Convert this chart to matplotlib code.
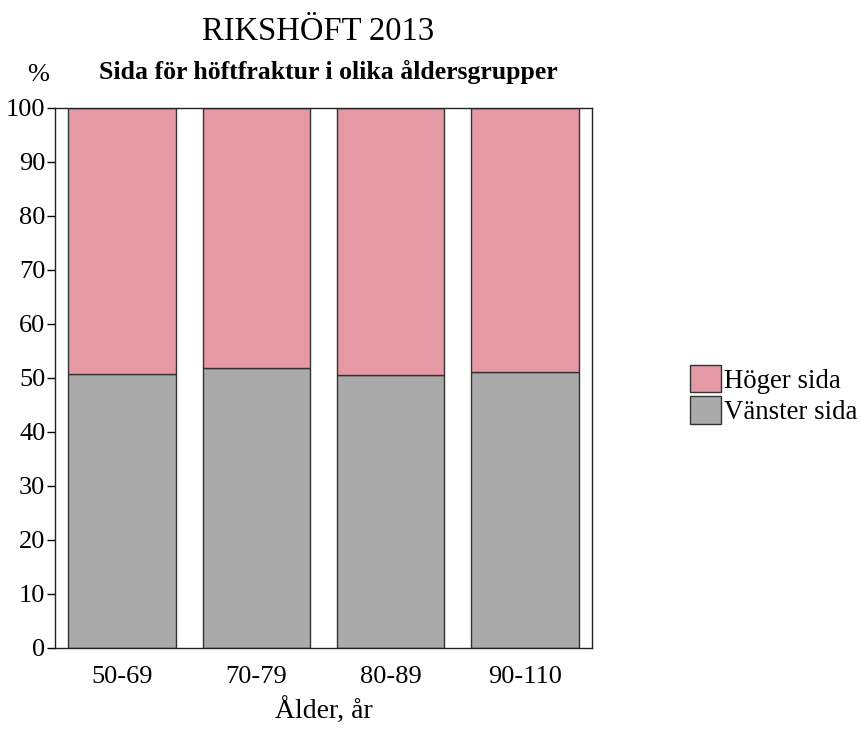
import matplotlib
matplotlib.use('Agg')
import matplotlib.pyplot as plt
import numpy as np

params = {
    'font.family': 'Liberation Serif',
    'font.size': 19,
}
plt.rcParams.update(params)

#%% data
groups = ['50-69', '70-79', '80-89', '90-110']
vanster = [50.7, 51.8, 50.6, 51.2]
hoger = [100 - v for v in vanster]

pink = '#e499a5'
grey = '#aaaaaa'

#%% plot
fig = plt.figure(figsize=(8.61, 7.29), dpi=100)
ax = fig.add_axes([55/861, 81/729, 537/861, 540/729])

x = np.arange(len(groups))
ax.bar(x, vanster, 0.8, color=grey, edgecolor='#333333', linewidth=1, label='Vänster sida')
ax.bar(x, hoger, 0.8, bottom=vanster, color=pink, edgecolor='#333333', linewidth=1, label='Höger sida')

ax.set_xlim(-0.5, 3.5)
ax.set_ylim(0, 100)
ax.set_yticks(range(0, 101, 10))
ax.set_xticks(x)
ax.set_xticklabels(groups)
ax.tick_params(axis='x', length=0, pad=13)
ax.tick_params(axis='y', length=6, width=1, pad=1)
for s in ax.spines.values():
    s.set_linewidth(1)
    s.set_color('#222222')

ax.set_xlabel('Ålder, år', fontsize=20, labelpad=7)
fig.text(38/861, 1 - 75/729, '%', ha='center', va='center', fontsize=19)
fig.text(318/861, 1 - 32/729, 'RIKSHÖFT 2013', ha='center', va='center', fontsize=23.5)
fig.text(328/861, 1 - 72/729, 'Sida för höftfraktur i olika åldersgrupper', ha='center', va='center',
         fontsize=18.5, fontweight='bold')

h, l = ax.get_legend_handles_labels()
fig.legend(h[::-1], l[::-1], loc='center left', bbox_to_anchor=(690/861, 1 - 395/729),
           frameon=False, fontsize=19.3, handlelength=1.15, handleheight=1.2,
           handletextpad=0.1, labelspacing=0.1, borderpad=0, borderaxespad=0)

fig.savefig('out.png', dpi=100)
